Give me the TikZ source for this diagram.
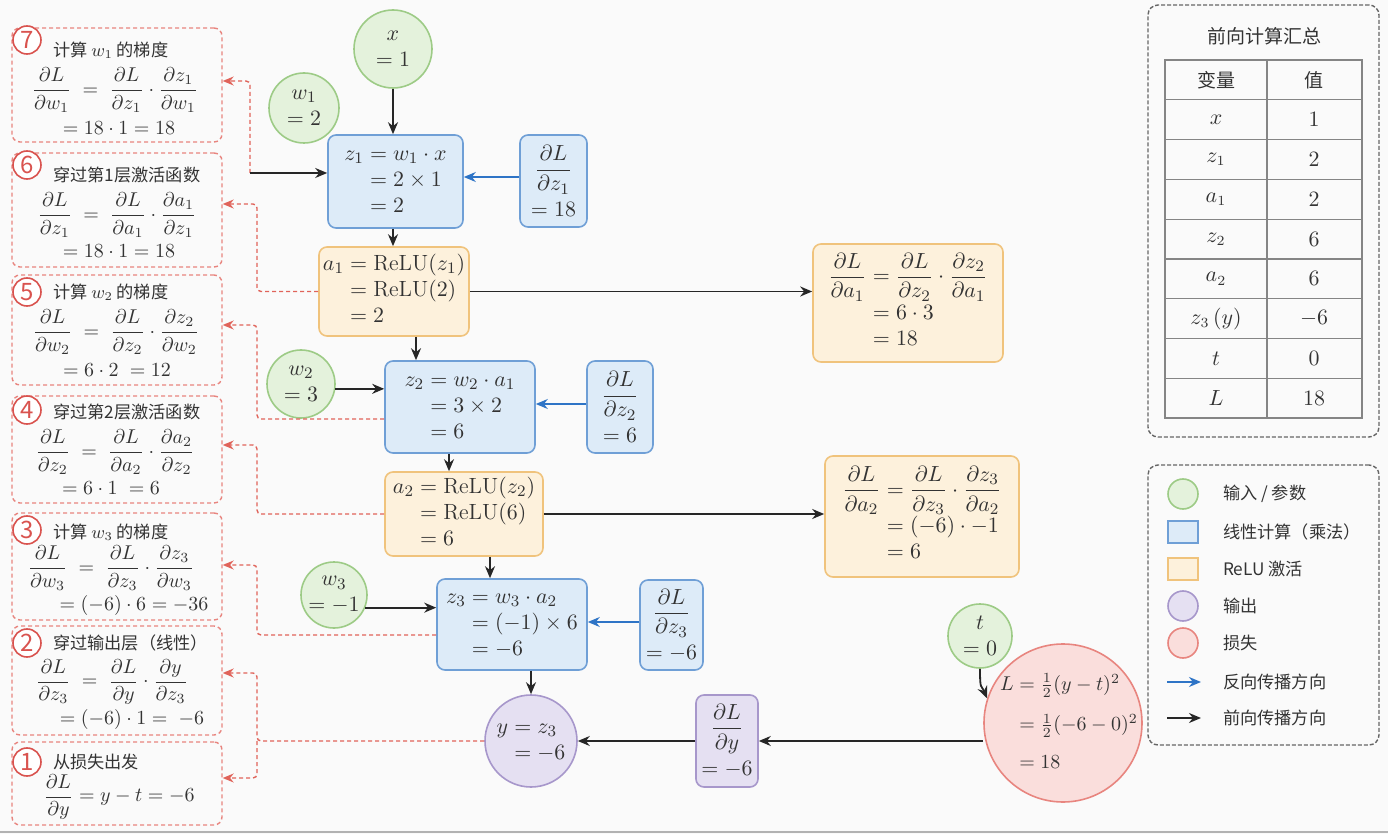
\documentclass[tikz,border=0pt]{standalone}
\usepackage{amsmath}
\usepackage{fontspec}
\newfontfamily\cjk{Noto Sans CJK SC}
\usetikzlibrary{arrows.meta}
\definecolor{bgc}{HTML}{FAFAFA}
\definecolor{txt}{HTML}{333333}
\definecolor{greenF}{HTML}{E4F2DC}
\definecolor{greenD}{HTML}{9DCB86}
\definecolor{blueF}{HTML}{DDEBF8}
\definecolor{blueD}{HTML}{6F9FD6}
\definecolor{orangeF}{HTML}{FDF1DC}
\definecolor{orangeD}{HTML}{F0C37C}
\definecolor{purpleF}{HTML}{E5E0F2}
\definecolor{purpleD}{HTML}{A797CB}
\definecolor{redF}{HTML}{FADEDC}
\definecolor{redD}{HTML}{E8857F}
\definecolor{redA}{HTML}{E0635A}
\definecolor{stepred}{HTML}{D9534F}
\definecolor{blueA}{HTML}{2E74C6}
\definecolor{grayD}{HTML}{666666}
\newcommand\eqarr[1]{\begin{array}{@{}r@{}l@{}}#1\end{array}}
\begin{document}
\begin{tikzpicture}[x=0.5pt,y=-0.5pt,
  every node/.style={text=txt},
  mfont/.style={font=\fontsize{11}{13}\selectfont},
  lfont/.style={font=\fontsize{9.6}{11.5}\selectfont},
  tfont/.style={font=\fontsize{10.5}{12.5}\selectfont},
  cfont/.style={font=\cjk\fontsize{8.6}{10}\selectfont},
  gcirc/.style={circle, draw=greenD, fill=greenF, line width=0.8pt, inner sep=0pt, align=center, mfont},
  blbox/.style={rectangle, rounded corners=4pt, draw=blueD, fill=blueF, line width=0.8pt, inner sep=0pt, align=center, mfont},
  orbox/.style={rectangle, rounded corners=4pt, draw=orangeD, fill=orangeF, line width=0.8pt, inner sep=0pt, align=center, mfont},
  pubox/.style={rectangle, rounded corners=4pt, draw=purpleD, fill=purpleF, line width=0.8pt, inner sep=0pt, align=center, mfont},
  pucirc/.style={circle, draw=purpleD, fill=purpleF, line width=0.8pt, inner sep=0pt, align=center, mfont},
  recirc/.style={circle, draw=redD, fill=redF, line width=0.8pt, inner sep=0pt},
  stepbox/.style={rectangle, rounded corners=4pt, draw=redD, dash pattern=on 2pt off 1.5pt, line width=0.7pt, minimum width=105pt, inner sep=0pt},
  stepnum/.style={circle, draw=stepred, fill=white, line width=0.8pt, minimum size=14pt, inner sep=0pt, text=stepred, font=\cjk\fontsize{12}{12}\selectfont},
  graybox/.style={rectangle, rounded corners=5pt, draw=grayD, dash pattern=on 2pt off 1pt, line width=0.7pt, minimum width=115.5pt, inner sep=0pt},
  fwdarr/.style={-{Stealth[length=6pt,width=5pt]}, line width=0.9pt, draw=black!85},
  bluearr/.style={-{Stealth[length=6pt,width=5pt]}, line width=0.9pt, draw=blueA},
  redback/.style={-{Stealth[length=5.5pt,width=4.5pt]}, line width=0.7pt, draw=redA, dash pattern=on 2pt off 1.5pt, rounded corners=2pt},
  tabline/.style={draw=grayD!80, line width=0.6pt},
]
\useasboundingbox (0,0) rectangle (1388,834);
\fill[bgc] (0,0) rectangle (1388,834);
\draw[black!30, line width=1pt] (0,832) -- (1388,832);

% ---------- left step boxes ----------
\node[stepbox, minimum height=57pt]   (s7) at (117,85) {};
\node[stepbox, minimum height=57pt]   (s6) at (117,210) {};
\node[stepbox, minimum height=55pt]   (s5) at (117,330) {};
\node[stepbox, minimum height=53.5pt] (s4) at (117,449.5) {};
\node[stepbox, minimum height=53.5pt] (s3) at (117,566.5) {};
\node[stepbox, minimum height=54.5pt] (s2) at (117,680.5) {};
\node[stepbox, minimum height=41.5pt] (s1) at (117,783.5) {};

\node[stepnum] (n7) at (27,40) {7};
\node[stepnum] (n6) at (27,165) {6};
\node[stepnum] (n5) at (27,292) {5};
\node[stepnum] (n4) at (27,410) {4};
\node[stepnum] (n3) at (27,530) {3};
\node[stepnum] (n2) at (27,643) {2};
\node[stepnum] (n1) at (27,762) {1};

\node[cfont, anchor=west] (t7) at (46,50) {计算 $w_1$ 的梯度};
\node[lfont] (e7) at (115,90) {$\dfrac{\partial L}{\partial w_1} \;=\; \dfrac{\partial L}{\partial z_1}\cdot\dfrac{\partial z_1}{\partial w_1}$};
\node[lfont] (f7) at (119,128) {$=18\cdot 1=18$};

\node[cfont, anchor=west] (t6) at (46,175) {穿过第1层激活函数};
\node[lfont] (e6) at (117,215) {$\dfrac{\partial L}{\partial z_1} \;=\; \dfrac{\partial L}{\partial a_1}\cdot\dfrac{\partial a_1}{\partial z_1}$};
\node[lfont] (f6) at (119,251) {$=18\cdot 1=18$};

\node[cfont, anchor=west] (t5) at (46,292) {计算 $w_2$ 的梯度};
\node[lfont] (e5) at (116,332) {$\dfrac{\partial L}{\partial w_2} \;=\; \dfrac{\partial L}{\partial z_2}\cdot\dfrac{\partial z_2}{\partial w_2}$};
\node[lfont] (f5) at (117,370) {$=6\cdot 2\;=12$};

\node[cfont, anchor=west] (t4) at (46,412) {穿过第2层激活函数};
\node[lfont] (e4) at (115,452) {$\dfrac{\partial L}{\partial z_2} \;=\; \dfrac{\partial L}{\partial a_2}\cdot\dfrac{\partial a_2}{\partial z_2}$};
\node[lfont] (f4) at (111,488) {$=6\cdot 1\;=6$};

\node[cfont, anchor=west] (t3) at (46,532) {计算 $w_3$ 的梯度};
\node[lfont] (e3) at (111,568) {$\dfrac{\partial L}{\partial w_3} \;=\; \dfrac{\partial L}{\partial z_3}\cdot\dfrac{\partial z_3}{\partial w_3}$};
\node[lfont] (f3) at (134,605) {$=(-6)\cdot 6=-36$};

\node[cfont, anchor=west] (t2) at (46,643) {穿过输出层（线性）};
\node[lfont] (e2) at (112,682) {$\dfrac{\partial L}{\partial z_3} \;=\; \dfrac{\partial L}{\partial y}\cdot\dfrac{\partial y}{\partial z_3}$};
\node[lfont] (f2) at (132,719) {$=(-6)\cdot 1=\;-6$};

\node[cfont, anchor=west] (t1) at (46,762) {从损失出发};
\node[lfont] (e1) at (119,797) {$\dfrac{\partial L}{\partial y}=y-t=-6$};

% ---------- main graph ----------
\node[gcirc, minimum size=39pt] (x)  at (393,49)  {$x$\\$=1$};
\node[gcirc, minimum size=35pt] (w1) at (304,108) {$w_1$\\$=2$};
\node[gcirc, minimum size=34pt] (w2) at (301,384) {$w_2$\\$=3$};
\node[gcirc, minimum size=33pt] (w3) at (334,595) {$w_3$\\$=-1$};
\node[gcirc, minimum size=32pt] (t)  at (980,636) {$t$\\$=0$};

\node[blbox, minimum width=67.5pt, minimum height=46.5pt] (z1) at (395.5,181.5)
  {$\eqarr{z_1 &{}= w_1\cdot x\\ &{}=2\times 1\\ &{}=2}$};
\node[blbox, minimum width=33.5pt, minimum height=46pt] (g1) at (553.5,181)
  {$\dfrac{\partial L}{\partial z_1}$\\[3pt]$=18$};
\node[orbox, minimum width=75pt, minimum height=44.5pt] (a1) at (394,291.5)
  {$\eqarr{a_1 &{}= \mathrm{ReLU}(z_1)\\ &{}=\mathrm{ReLU}(2)\\ &{}=2}$};
\node[orbox, minimum width=95pt, minimum height=59pt] (ga1) at (908,303)
  {$\eqarr{\dfrac{\partial L}{\partial a_1} &{}= \dfrac{\partial L}{\partial z_2}\cdot\dfrac{\partial z_2}{\partial a_1}\\[2pt] &{}=6\cdot 3\\ &{}=18}$};
\node[blbox, minimum width=75pt, minimum height=46pt] (z2) at (460,407)
  {$\eqarr{z_2 &{}= w_2\cdot a_1\\ &{}=3\times 2\\ &{}=6}$};
\node[blbox, minimum width=33pt, minimum height=46pt] (g2) at (620,407)
  {$\dfrac{\partial L}{\partial z_2}$\\[3pt]$=6$};
\node[orbox, minimum width=79pt, minimum height=42pt] (a2) at (464,514)
  {$\eqarr{a_2 &{}= \mathrm{ReLU}(z_2)\\ &{}=\mathrm{ReLU}(6)\\ &{}=6}$};
\node[orbox, minimum width=97pt, minimum height=60.5pt] (ga2) at (922,516.5)
  {$\eqarr{\dfrac{\partial L}{\partial a_2} &{}= \dfrac{\partial L}{\partial z_3}\cdot\dfrac{\partial z_3}{\partial a_2}\\[2pt] &{}=(-6)\cdot -1\\ &{}=6}$};
\node[blbox, minimum width=75pt, minimum height=45.5pt] (z3) at (512,624.5)
  {$\eqarr{z_3 &{}= w_3\cdot a_2\\ &{}=(-1)\times 6\\ &{}=-6}$};
\node[blbox, minimum width=31.5pt, minimum height=45pt] (g3) at (671.5,625)
  {$\dfrac{\partial L}{\partial z_3}$\\[3pt]$=-6$};
\node[pucirc, minimum size=46pt] (y) at (531,741)
  {$\eqarr{y &{}= z_3\\ &{}=-6}$};
\node[pubox, minimum width=31pt, minimum height=46pt] (gy) at (727,741)
  {$\dfrac{\partial L}{\partial y}$\\[3pt]$=-6$};
\node[recirc, minimum size=79pt] (L) at (1063,723) {};
\node[font=\fontsize{9.8}{12}\selectfont] (Ltext) at (1069,725)
  {$\eqarr{L &{}= \frac{1}{2}(y-t)^2\\[8pt] &{}=\frac{1}{2}(-6-0)^2\\[7pt] &{}=18}$};

% forward arrows
\draw[fwdarr] (x.south -| 393,0) -- (z1.north -| 393,0);
\draw[fwdarr] (z1.south -| 393,0) -- (a1.north -| 393,0);
\draw[fwdarr] (a1.south -| 416,0) -- (z2.north -| 416,0);
\draw[fwdarr] (z2.south -| 449,0) -- (a2.north -| 449,0);
\draw[fwdarr] (a2.south -| 490,0) -- (z3.north -| 490,0);
\draw[fwdarr] (z3.south -| y.north) -- (y.north);
\draw[fwdarr] (w2.-8) -- (w2.-8 -| z2.west);
\draw[fwdarr] (w3.-22) -- (w3.-22 -| z3.west);
\draw[fwdarr] (a1.east) -- (a1.east -| ga1.west);
\draw[fwdarr] (a2.east) -- (a2.east -| ga2.west);
\draw[fwdarr] (L.west |- gy.east) -- (gy.east);
\draw[fwdarr] (gy.west) -- (gy.west -| y.east);
\draw[fwdarr] (t.south) .. controls +(0,22) and +(-6,-14) .. (L.162);

% backward (blue) arrows
\draw[bluearr] (g1.west |- 0,177) -- (z1.east |- 0,177);
\draw[bluearr] (g2.west |- 0,404) -- (z2.east |- 0,404);
\draw[bluearr] (g3.west |- 0,622) -- (z3.east |- 0,622);

% red dashed back-references
\coordinate (w1in) at (250,173);
\draw[redback] (w1in) |- ([yshift=2pt]s7.east);
\draw[fwdarr] (w1in) -- (w1in -| z1.west);
\draw[redback] (a1.west) -| (257,204) -- (s6.east |- 257,204);
\draw[redback] (z2.west |- 0,419) -| (257,325) -- (s5.east |- 257,325);
\draw[redback] (a2.west) -| (257,445) -- (s4.east |- 257,445);
\draw[redback] (z3.west |- 0,635) -| (257,565) -- (s3.east |- 257,565);
\coordinate (yb) at (257,741);
\draw[redback] (y.west) -- (yb) |- (s2.east |- 257,673);
\draw[redback] (yb) |- (s1.east |- 257,778);

% ---------- summary table ----------
\node[graybox, minimum height=216pt] (tab) at (1263.5,221) {};
\node[font=\cjk\fontsize{9.5}{10}\selectfont] (tabt) at (1264,36) {前向计算汇总};
\draw[tabline] (1165,60) rectangle (1362,418);
\draw[tabline] (1267,60) -- (1267,418);
\foreach \k in {1,...,8} \draw[tabline] (1165,{60+39.8*\k}) -- (1362,{60+39.8*\k});
\node[font=\cjk\fontsize{9.5}{10}\selectfont] (th1) at (1216,80) {变量};
\node[font=\cjk\fontsize{9.5}{10}\selectfont] (th2) at (1314,80) {值};
\foreach \v/\val [count=\i] in {x/1, z_1/2, a_1/2, z_2/6, a_2/6, {z_3\,(y)}/-6, t/0, L/18} {
  \node[tfont] (tv\i) at (1216,{79.9+39.8*\i}) {$\v$};
  \node[tfont] (tw\i) at (1314,{79.9+39.8*\i}) {$\val$};
}

% ---------- legend ----------
\node[graybox, minimum height=140pt] (leg) at (1263.5,605) {};
\node[circle, draw=greenD, fill=greenF, line width=0.8pt, minimum size=15pt, inner sep=0pt] (lg1) at (1183,494) {};
\node[rectangle, draw=blueD, fill=blueF, line width=0.8pt, minimum width=15pt, minimum height=11pt, inner sep=0pt] (lg2) at (1183,532) {};
\node[rectangle, draw=orangeD, fill=orangeF, line width=0.8pt, minimum width=15pt, minimum height=11pt, inner sep=0pt] (lg3) at (1183,569) {};
\node[circle, draw=purpleD, fill=purpleF, line width=0.8pt, minimum size=15pt, inner sep=0pt] (lg4) at (1183,606) {};
\node[circle, draw=redD, fill=redF, line width=0.8pt, minimum size=15pt, inner sep=0pt] (lg5) at (1183,643) {};
\coordinate (la1) at (1167,682); \coordinate (la2) at (1201,682);
\coordinate (lb1) at (1167,718); \coordinate (lb2) at (1201,718);
\draw[bluearr] (la1) -- (la2);
\draw[fwdarr] (lb1) -- (lb2);
\node[cfont, anchor=west] (lt1) at (1216,494) {输入 / 参数};
\node[cfont, anchor=west] (lt2) at (1216,532) {线性计算（乘法）};
\node[cfont, anchor=west] (lt3) at (1216,569) {ReLU 激活};
\node[cfont, anchor=west] (lt4) at (1216,606) {输出};
\node[cfont, anchor=west] (lt5) at (1216,643) {损失};
\node[cfont, anchor=west] (lt6) at (1216,682) {反向传播方向};
\node[cfont, anchor=west] (lt7) at (1216,718) {前向传播方向};
\end{tikzpicture}
\end{document}
